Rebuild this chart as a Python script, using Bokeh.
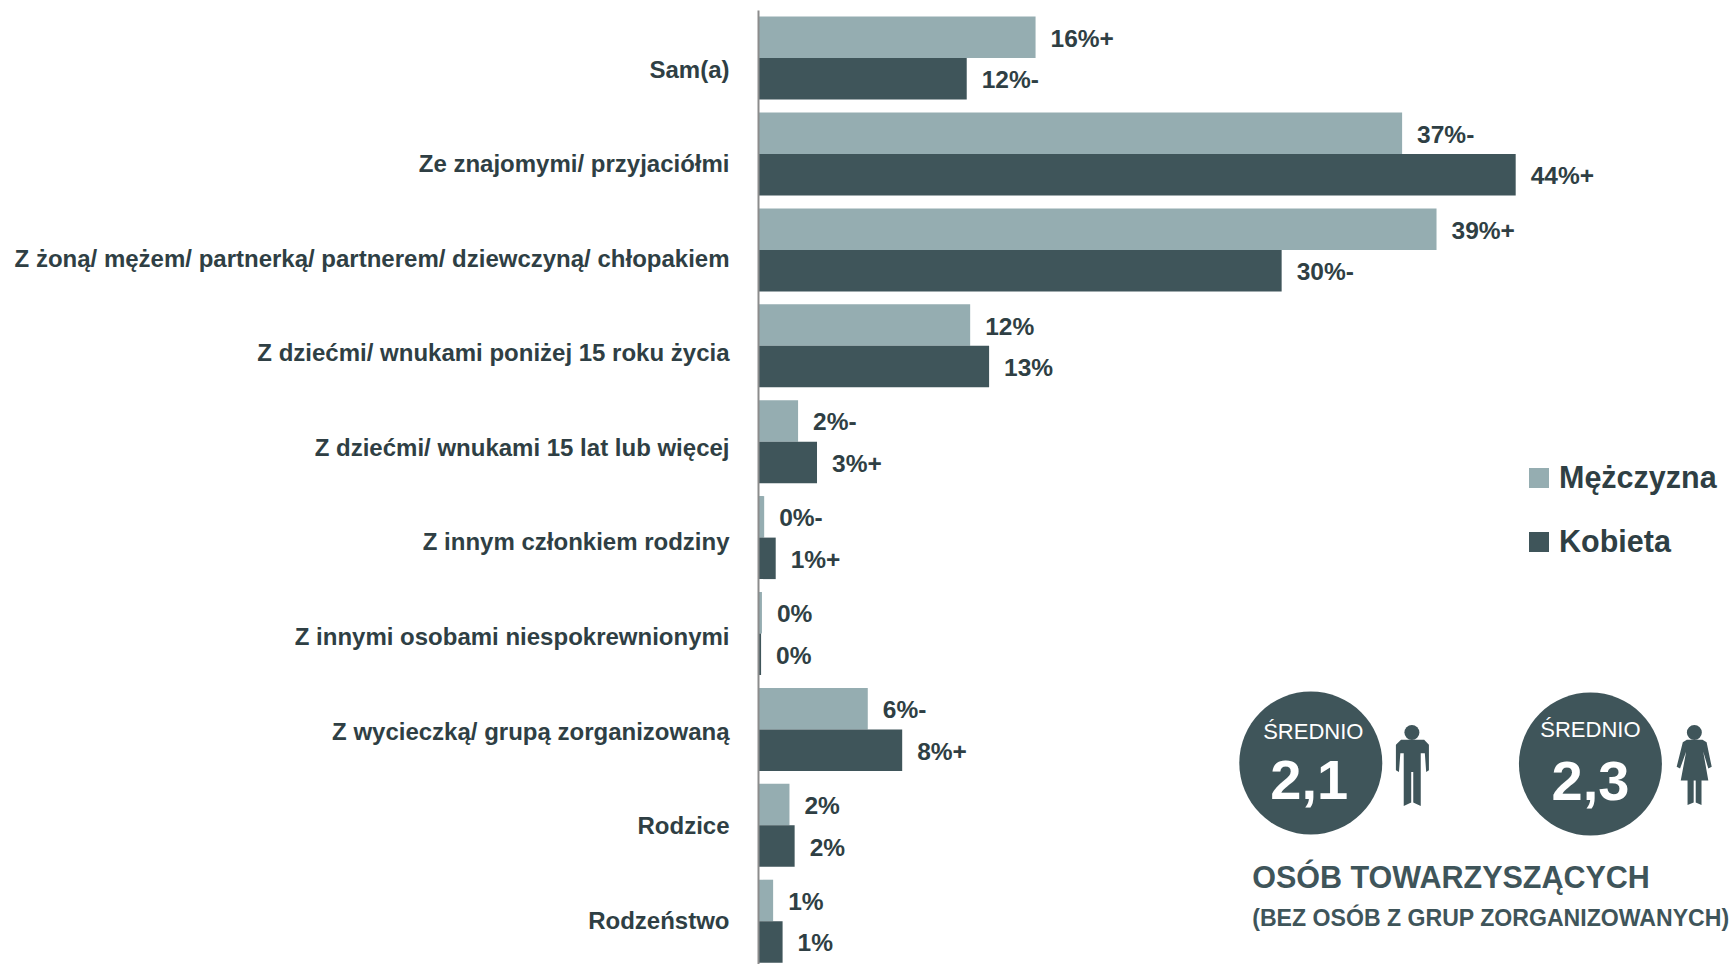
from bokeh.plotting import figure
from bokeh.models import Range1d, FixedTicker, Legend, LegendItem, ColumnDataSource
from bokeh.core.properties import value
from bokeh.embed import file_html
from bokeh.resources import INLINE

categories = ["Sam(a)", "Ze znajomymi/ przyjaciółmi",
              "Z żoną/ mężem/ partnerką/ partnerem/ dziewczyną/ chłopakiem",
              "Z dziećmi/ wnukami poniżej 15 roku życia",
              "Z dziećmi/ wnukami 15 lat lub więcej",
              "Z innym członkiem rodziny", "Z innymi osobami niespokrewnionymi",
              "Z wycieczką/ grupą zorganizowaną", "Rodzice", "Rodzeństwo"]
men = [16.1, 37.4, 39.4, 12.3, 2.3, 0.33, 0.2, 6.35, 1.8, 0.85]
women = [12.1, 44.0, 30.4, 13.4, 3.4, 1.0, 0.15, 8.35, 2.1, 1.4]
men_labels = ["16%+", "37%-", "39%+", "12%", "2%-", "0%-", "0%", "6%-", "2%", "1%"]
women_labels = ["12%-", "44%+", "30%-", "13%", "3%+", "1%+", "0%", "8%+", "2%", "1%"]
series_names = ["Mężczyzna", "Kobieta"]

LIGHT, DARK, INK = "#95ADB1", "#3F555A", "#2F3F44"
FAMILY = "Liberation Sans"
FONT = value(FAMILY)

W, H = 1733, 964
AXIS_PX, PX_PER_PCT = 758.5, 17.2
ROW0_PX, ROW_PX = 57.6, 95.9
TOP_PX = 10
BAR = 41.5 / ROW_PX

def X(px): return (px - AXIS_PX) / PX_PER_PCT
def Y(py): return (py - ROW0_PX) / ROW_PX

p = figure(width=W, height=H, output_backend="svg", toolbar_location=None,
           x_range=Range1d(0, X(W)), y_range=Range1d(Y(H), Y(TOP_PX)),
           min_border_left=int(AXIS_PX), min_border_right=0,
           min_border_top=TOP_PX, min_border_bottom=0,
           outline_line_color=None, x_axis_location=None)
p.grid.visible = False

rows = list(range(len(categories)))
src = ColumnDataSource(dict(
    men_y=[r - BAR / 2 for r in rows], women_y=[r + BAR / 2 for r in rows],
    men=men, women=women, men_labels=men_labels, women_labels=women_labels))

r_m = p.hbar(y="men_y", right="men", left=0, height=BAR, source=src, fill_color=LIGHT, line_color=None)
r_w = p.hbar(y="women_y", right="women", left=0, height=BAR, source=src, fill_color=DARK, line_color=None)

for xc, yc, t in (("men", "men_y", "men_labels"), ("women", "women_y", "women_labels")):
    p.text(x=xc, y=yc, text=t, source=src, x_offset=15, y_offset=1, text_font=FONT,
           text_font_style="bold", text_font_size="24.5px", text_color=INK,
           text_align="left", text_baseline="middle")

# Category labels drift slightly from the bars in the original
LABEL_PITCH, LABEL_SHIFT = 94.56 / ROW_PX, 11 / ROW_PX
ticks = [round(LABEL_SHIFT + r * LABEL_PITCH, 4) for r in rows]
ax = p.yaxis[0]
ax.ticker = FixedTicker(ticks=ticks)
ax.major_label_overrides = dict(zip(ticks, categories))
ax.major_tick_line_color = None
ax.minor_tick_line_color = None
ax.major_tick_in = 0
ax.major_tick_out = 0
ax.axis_line_color = "#8C8C8C"
ax.axis_line_width = 2
ax.major_label_standoff = 29
ax.major_label_text_font = FAMILY
ax.major_label_text_font_style = "bold"
ax.major_label_text_font_size = "24px"
ax.major_label_text_color = INK

legend = Legend(items=[LegendItem(label=series_names[0], renderers=[r_m]),
                       LegendItem(label=series_names[1], renderers=[r_w])],
                location=(768, 405), background_fill_alpha=0, border_line_color=None,
                glyph_width=25, glyph_height=25, label_standoff=8, spacing=29, padding=0, margin=0,
                label_text_font=FAMILY, label_text_font_style="bold",
                label_text_font_size="30.5px", label_text_color=INK, label_height=24)
p.add_layout(legend)

# Average badges
p.scatter(x=[X(1310.5), X(1590)], y=[Y(762.5), Y(763.5)], size=143, marker="circle",
          fill_color=DARK, line_color=None)
def txt(px, py, s, size, style="normal", color="white", align="center"):
    p.text(x=[X(px)], y=[Y(py)], text=[s], text_font=FONT, text_font_style=style,
           text_font_size=size, text_color=color, text_align=align, text_baseline="middle")
txt(1313, 731, "ŚREDNIO", "22px")
txt(1590, 729, "ŚREDNIO", "22px")
txt(1309, 779, "2,1", "56px", "bold")
txt(1590, 780, "2,3", "56px", "bold")
txt(1252, 876, "OSÓB TOWARZYSZĄCYCH", "30.5px", "bold", DARK, "left")
txt(1252, 917, "(BEZ OSÓB Z GRUP ZORGANIZOWANYCH)", "23.1px", "bold", DARK, "left")

# Person icons, traced in crop pixels
def ZX(z): return X(1200 + z / 2.94)
def ZY(z): return Y(657.5 + z / 2.94)
man = [(590,240),(658,240),(672,255),(672,330),(664,335),(660,280),(648,280),(648,435),(626,425),(626,335),(620,335),(620,425),(598,435),(598,280),(588,280),(584,335),(575,330),(575,255)]
woman = [(1430,240),(1476,240),(1488,248),(1503,320),(1493,325),(1478,275),(1493,360),(1473,360),(1473,432),(1456,425),(1456,360),(1450,360),(1450,425),(1432,432),(1432,360),(1412,360),(1428,275),(1410,325),(1400,320),(1418,248)]
for poly in (man, woman):
    p.patch(x=[ZX(a) for a, _ in poly], y=[ZY(b) for _, b in poly], fill_color=DARK, line_color=None)
p.scatter(x=[ZX(622), ZX(1452)], y=[ZY(219), ZY(219)], size=15, marker="circle", fill_color=DARK, line_color=None)

open("out.html", "w").write(file_html(p, INLINE))
